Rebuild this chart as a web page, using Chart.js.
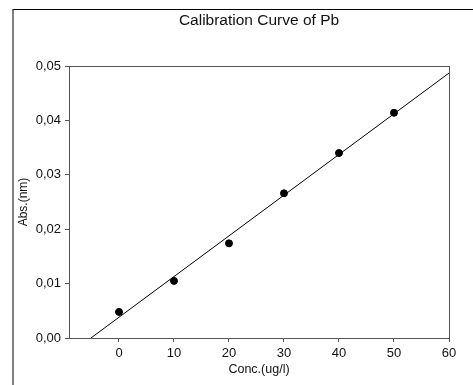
<!DOCTYPE html>
<html>
<head>
<meta charset="utf-8">
<script src="https://cdn.jsdelivr.net/npm/chart.js@4"></script>
<style>
    body { margin: 0; background: #fff; }
    #wrap { position: relative; width: 473px; height: 385px; }
    #frame {
        position: absolute; left: 12px; top: 9px; right: 0; bottom: 0;
        border-top: 1px solid #000; border-left: 2px solid #808080;
        pointer-events: none;
    }
</style>
</head>
<body>
<div id="wrap">
    <canvas id="myChart" width="473" height="385"></canvas>
    <div id="frame"></div>
</div>
<script>
const conc = [0, 10, 20, 30, 40, 50];
const absorbance = [0.0048, 0.0105, 0.0174, 0.0266, 0.0340, 0.0414];
// regression line end points
const fitX = [-5.1, 60];
const fitY = [0, 0.0487];
const xTicks = [0, 10, 20, 30, 40, 50, 60];
const yTicks = [0, 0.01, 0.02, 0.03, 0.04, 0.05];

const font = 'Liberation Sans, Arial, sans-serif';

// box around the plot area (top and right edges too)
const plotBox = {
    id: 'plotBox',
    afterDraw(chart) {
        const { ctx, chartArea: a } = chart;
        ctx.save();
        ctx.strokeStyle = '#555';
        ctx.lineWidth = 1;
        ctx.strokeRect(a.left + 0.5, a.top + 0.5, a.right - a.left, a.bottom - a.top);
        ctx.restore();
    }
};

const ctx = document.getElementById('myChart').getContext('2d');

new Chart(ctx, {
    type: 'scatter',
    data: {
        datasets: [{
            type: 'line',
            data: fitX.map((x, i) => ({ x: x, y: fitY[i] })),
            borderColor: '#000',
            borderWidth: 1,
            pointRadius: 0,
            fill: false
        }, {
            data: conc.map((x, i) => ({ x: x, y: absorbance[i] })),
            backgroundColor: '#000',
            borderColor: '#000',
            pointRadius: 3.5,
            pointHoverRadius: 3.5
        }]
    },
    options: {
        responsive: false,
        animation: false,
        layout: { padding: { left: 0, right: 24, top: 0, bottom: 0 } },
        scales: {
            x: {
                type: 'linear',
                min: -9.09,
                max: 60,
                afterBuildTicks: (scale) => { scale.ticks = xTicks.map(v => ({ value: v })); },
                afterFit: (scale) => { scale.height = 47; },
                grid: { drawOnChartArea: false, tickLength: 4, color: '#555' },
                border: { color: '#555' },
                ticks: {
                    padding: 4,
                    color: '#111',
                    font: { family: font, size: 13 },
                    maxRotation: 0
                },
                title: {
                    display: true,
                    text: 'Conc.(ug/l)',
                    color: '#111',
                    font: { family: font, size: 12.5 },
                    padding: { top: 0, bottom: 8 }
                }
            },
            // top axis only carries the chart title, centred over the plot
            x2: {
                type: 'linear',
                position: 'top',
                min: -9.09,
                max: 60,
                afterFit: (scale) => { scale.height = 66; },
                grid: { display: false },
                border: { display: false },
                ticks: { display: false },
                title: {
                    display: true,
                    text: 'Calibration Curve of Pb',
                    color: '#111',
                    font: { family: font, size: 15.5 },
                    padding: { top: 11.7, bottom: 0 }
                }
            },
            y: {
                type: 'linear',
                min: 0,
                max: 0.05,
                afterBuildTicks: (scale) => { scale.ticks = yTicks.map(v => ({ value: v })); },
                afterFit: (scale) => { scale.width = 69; },
                grid: { drawOnChartArea: false, tickLength: 4, color: '#555' },
                border: { color: '#555' },
                ticks: {
                    padding: 4,
                    color: '#111',
                    font: { family: font, size: 13 },
                    callback: (v) => v.toFixed(2).replace('.', ',')
                },
                title: {
                    display: true,
                    text: 'Abs.(nm)',
                    color: '#111',
                    font: { family: font, size: 12 },
                    padding: { top: 16, bottom: 0 }
                }
            }
        },
        plugins: {
            legend: { display: false },
            tooltip: { enabled: false },
            title: { display: false }
        }
    },
    plugins: [plotBox]
});
</script>
</body>
</html>
